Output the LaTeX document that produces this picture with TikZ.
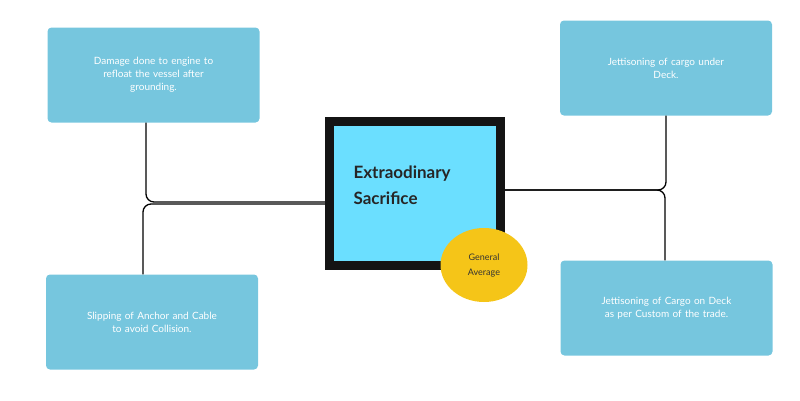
\documentclass[tikz,border=0pt]{standalone}
\usepackage{fontspec}
\setmainfont{Lato}
\usepackage{tikz}
\usetikzlibrary{positioning, shapes.geometric}
\definecolor{boxblue}{HTML}{76C6DE}
\definecolor{corecyan}{HTML}{6BDFFF}
\definecolor{badgegold}{HTML}{F5C518}
\tikzset{
	itembox/.style={fill=boxblue, rounded corners=4pt, minimum width=212pt, minimum height=95pt,
		text=white, font=\fontsize{10}{13}\selectfont, align=center, text width=180pt, inner sep=0pt},
	link/.style={line width=1.3pt, black, rounded corners=8pt}
}

\begin{document}
\begin{tikzpicture}[x=1pt, y=-1pt]
	\useasboundingbox (0,0) rectangle (800,400);
	% boxes
	\node[itembox] (engine) at (153.5,75) {Damage done to engine to\\refloat the vessel after\\grounding.};
	\node[itembox] (under) at (666,68) {Jettisoning of cargo under\\Deck.};
	\node[itembox] (anchor) at (152,322) {Slipping of Anchor and Cable\\to avoid Collision.};
	\node[itembox] (ondeck) at (666.5,308) {Jettisoning of Cargo on Deck\\as per Custom of the trade.};
	% links
	\draw[link] (engine.south -| 146,0) |- (325,202);
	\draw[link] (anchor.north -| 143,0) |- (325,204);
	\draw[link] (505,190) -| (under.south -| 666,0);
	\draw[link] (505,190) -| (ondeck.north -| 665,0);
	% centre
	\node[draw=black!92, line width=9pt, fill=corecyan, minimum width=171pt, minimum height=144pt,
		inner sep=0pt] (core) at (415,193.5) {};
	\node[font=\bfseries\fontsize{17}{26}\selectfont, text=black!85, align=left, anchor=west]
		(title) at (350,185) {Extraodinary\\Sacrifice};
	\node[ellipse, fill=badgegold, minimum width=87pt, minimum height=74pt, inner sep=0pt,
		font=\fontsize{9}{15}\selectfont, text=black!80, align=center] (badge) at (484,265)
		{General\\Average};
\end{tikzpicture}
\end{document}
